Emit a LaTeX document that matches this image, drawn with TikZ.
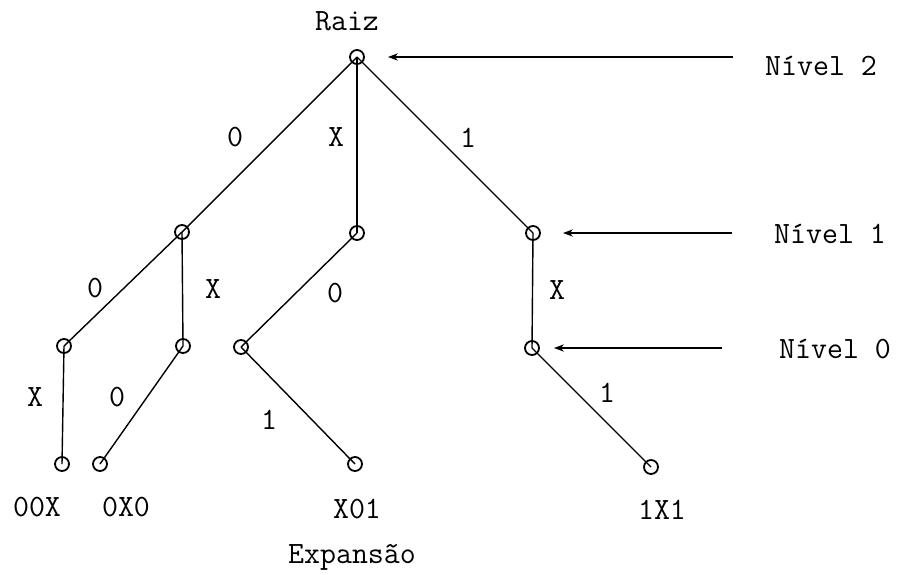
\documentclass[tikz,border=0pt]{standalone}
\usepackage{fontspec}
\usepackage{tikz}
\usetikzlibrary{arrows.meta,positioning}

\tikzset{
  vertex/.style={circle,draw=black,line width=0.9pt,minimum size=7pt,inner sep=0pt},
  branch/.style={draw=black,line width=0.7pt},
  levelarrow/.style={draw=black,line width=1pt,-{Stealth[length=5pt,width=3.6pt]}},
  tag/.style={font=\ttfamily\fontsize{15.5}{18}\selectfont,inner sep=0pt}
}

\begin{document}
\begin{tikzpicture}[x=0.5pt,y=0.5pt]
  \useasboundingbox (0,0) rectangle (897,-574);

  % tree vertices
  \node[vertex] (root) at (357,-57) {};
  \node[vertex] (n1a) at (182,-232) {};
  \node[vertex] (n1b) at (357,-233) {};
  \node[vertex] (n1c) at (533,-233) {};
  \node[vertex] (n0a) at (64,-346) {};
  \node[vertex] (n0b) at (183,-346) {};
  \node[vertex] (n0c) at (241,-347) {};
  \node[vertex] (n0d) at (532,-348) {};
  \node[vertex] (lfa) at (62,-464) {};
  \node[vertex] (lfb) at (100,-464) {};
  \node[vertex] (lfc) at (355,-464) {};
  \node[vertex] (lfd) at (651,-467) {};

  \foreach \a/\b in {root/n1a,root/n1b,root/n1c,n1a/n0a,n1a/n0b,n1b/n0c,
                     n1c/n0d,n0a/lfa,n0b/lfb,n0c/lfc,n0d/lfd}
    \draw[branch] (\a.center) -- (\b.center);

  % branch labels
  \foreach \name/\x/\y/\t in {bra/235/137/0,brb/336/137/X,brc/468/138/1,
                              bad/95/288/0,bae/213/289/X,bbf/335/293/0,
                              bcg/557/290/X,bdh/35/397/X,bei/117/397/0,
                              bfj/269/420/1,bgk/607/393/1}
    \node[tag] (\name) at (\x,-\y) {\t};

  % leaf codes
  \node[tag] (cda) at (37,-507) {00X};
  \node[tag] (cdb) at (126,-507) {0X0};
  \node[tag] (cdc) at (357,-509) {X01};
  \node[tag] (cdd) at (662,-510) {1X1};

  \node[tag] (raiz) at (347,-21) {Raiz};
  \node[tag] (expa) at (352,-557) {Expansão};

  % levels
  \node[tag] (lv2) at (821,-66) {Nível 2};
  \node[tag] (lv1) at (830,-234) {Nível 1};
  \node[tag] (lv0) at (835,-349) {Nível 0};
  \coordinate (t2) at (733,-57);
  \coordinate (t1) at (732,-233);
  \coordinate (t0) at (722,-348);
  \draw[levelarrow,shorten >=11.5pt] (t2) -- (root);
  \draw[levelarrow,shorten >=11pt] (t1) -- (n1c);
  \draw[levelarrow,shorten >=7pt] (t0) -- (n0d);
\end{tikzpicture}
\end{document}
